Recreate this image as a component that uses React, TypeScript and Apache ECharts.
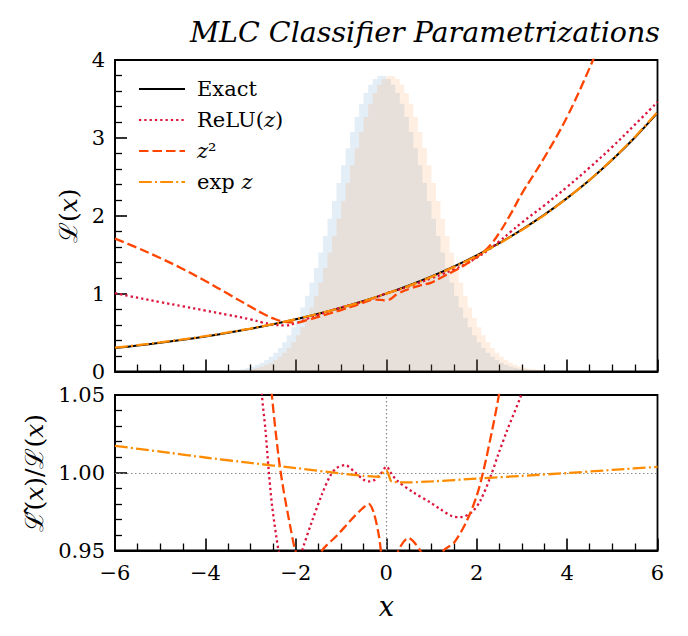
import React, { useEffect, useRef } from "react";
import * as echarts from "echarts";

const SERIF = "DejaVu Serif";

// Histogram (scaled density), bins of width 0.1 starting at -3.5
const histStart = -3.5;
const binWidth = 0.1;
const histBlue: number[] = [
  0.014, 0.019, 0.027, 0.036, 0.049, 0.065, 0.087, 0.113, 0.147, 0.189,
  0.24, 0.302, 0.377, 0.465, 0.568, 0.686, 0.822, 0.974, 1.143, 1.328,
  1.528, 1.74, 1.962, 2.19, 2.42, 2.648, 2.868, 3.077, 3.267, 3.437,
  3.576, 3.683, 3.757, 3.795, 3.795, 3.757, 3.683, 3.576, 3.437, 3.267,
  3.077, 2.868, 2.648, 2.42, 2.19, 1.962, 1.74, 1.528, 1.328, 1.143,
  0.974, 0.822, 0.686, 0.568, 0.465, 0.377, 0.302, 0.24, 0.189, 0.147,
  0.113, 0.087, 0.065, 0.049, 0.036, 0.027, 0.019, 0.014, 0.01, 0.007,
];
const histOrange: number[] = [
  0.007, 0.01, 0.014, 0.019, 0.027, 0.036, 0.049, 0.065, 0.087, 0.113,
  0.147, 0.189, 0.24, 0.302, 0.377, 0.465, 0.568, 0.686, 0.822, 0.974,
  1.143, 1.328, 1.528, 1.74, 1.962, 2.19, 2.42, 2.648, 2.868, 3.077,
  3.267, 3.437, 3.576, 3.683, 3.757, 3.795, 3.795, 3.757, 3.683, 3.576,
  3.437, 3.267, 3.077, 2.868, 2.648, 2.42, 2.19, 1.962, 1.74, 1.528,
  1.328, 1.143, 0.974, 0.822, 0.686, 0.568, 0.465, 0.377, 0.302, 0.24,
  0.189, 0.147, 0.113, 0.087, 0.065, 0.049, 0.036, 0.027, 0.019, 0.014,
];

// Top panel curves
const xExact = [-6, -5.5, -5, -4.5, -4, -3.5, -3, -2.5, -2, -1.5, -1, -0.5, 0, 0.5, 1, 1.5, 2, 2.5, 3, 3.5, 4, 4.5, 5, 5.5, 6];
const yExact = [0.301, 0.333, 0.368, 0.407, 0.449, 0.497, 0.549, 0.607, 0.67, 0.741, 0.819, 0.905, 1.0, 1.105, 1.221, 1.35, 1.492, 1.649, 1.822, 2.014, 2.226, 2.46, 2.718, 3.004, 3.32];
const yExpZ = [0.306, 0.338, 0.373, 0.412, 0.453, 0.501, 0.552, 0.609, 0.672, 0.742, 0.819, 0.903, 1.001, 1.099, 1.215, 1.343, 1.486, 1.644, 1.818, 2.01, 2.226, 2.462, 2.723, 3.012, 3.333];

const xRelu = [-6, -5.5, -5, -4.5, -4, -3.5, -3, -2.75, -2.5, -2.25, -2, -1.75, -1.5, -1.25, -1, -0.75, -0.5, -0.25, 0, 0.25, 0.5, 0.75, 1, 1.25, 1.5, 1.75, 2, 2.25, 2.5, 2.75, 3, 3.5, 4, 4.5, 5, 5.5, 6];
const yRelu = [1.005, 0.948, 0.892, 0.837, 0.782, 0.727, 0.668, 0.632, 0.602, 0.592, 0.62, 0.677, 0.728, 0.777, 0.822, 0.862, 0.9, 0.947, 1.004, 1.046, 1.093, 1.145, 1.198, 1.253, 1.312, 1.379, 1.461, 1.557, 1.67, 1.792, 1.913, 2.135, 2.37, 2.62, 2.885, 3.17, 3.46];

const xSq = [-6, -5.5, -5, -4.5, -4, -3.5, -3, -2.75, -2.5, -2.25, -2, -1.75, -1.5, -1.25, -1, -0.75, -0.5, -0.25, 0, 0.25, 0.5, 0.75, 1, 1.25, 1.5, 1.75, 2, 2.25, 2.5, 2.75, 3, 3.5, 4, 4.5, 4.75];
const ySq = [1.707, 1.587, 1.457, 1.317, 1.162, 0.997, 0.83, 0.75, 0.682, 0.638, 0.63, 0.659, 0.702, 0.745, 0.789, 0.836, 0.885, 0.924, 0.913, 0.996, 1.059, 1.105, 1.142, 1.217, 1.29, 1.372, 1.47, 1.588, 1.78, 2.02, 2.285, 2.75, 3.27, 3.9, 4.25];

// Bottom panel ratios
const xRatioExp = [-6, -5, -4, -3, -2, -1, -0.5, -0.15, -0.05, 0, 0.05, 0.12, 0.5, 1, 2, 3, 4, 5, 6];
const yRatioExp = [1.0173, 1.0136, 1.0098, 1.0063, 1.003, 0.9995, 0.998, 0.9975, 1.0008, 1.0015, 0.999, 0.9942, 0.9938, 0.9944, 0.9962, 0.998, 0.9998, 1.0018, 1.0038];

const xRatioRelu = [-3.0, -2.85, -2.75, -2.67, -2.6, -2.53, -2.43, -2.38, -2.2, -2.0, -1.86, -1.64, -1.42, -1.24, -1.1, -0.91, -0.69, -0.5, -0.38, -0.25, -0.13, 0.01, 0.1, 0.24, 0.6, 0.97, 1.19, 1.45, 1.64, 1.89, 2.08, 2.3, 2.48, 2.67, 2.96, 3.1, 3.5];
const yRatioRelu = [1.15, 1.1, 1.05, 1.027, 1.0013, 0.98, 0.9585, 0.95, 0.93, 0.935, 0.95, 0.969, 0.9863, 0.998, 1.003, 1.0049, 1.0002, 0.9955, 0.9944, 0.9955, 0.999, 1.004, 1.0, 0.9949, 0.9874, 0.981, 0.9767, 0.9722, 0.9714, 0.9746, 0.982, 0.997, 1.012, 1.027, 1.048, 1.06, 1.08];

const xRatioSq = [-3.0, -2.53, -2.38, -2.27, -2.12, -2.01, -1.75, -1.42, -1.09, -0.8, -0.54, -0.39, -0.28, -0.17, -0.12, 0, 0.1, 0.27, 0.49, 0.75, 1.0, 1.27, 1.5, 1.78, 2.0, 2.15, 2.34, 2.48, 2.6];
const yRatioSq = [1.2, 1.05, 1.0098, 0.9885, 0.965, 0.95, 0.93, 0.95, 0.9596, 0.969, 0.9767, 0.98, 0.9746, 0.9607, 0.95, 0.92, 0.93, 0.95, 0.958, 0.95, 0.935, 0.95, 0.955, 0.969, 0.985, 1.0013, 1.027, 1.048, 1.07];

const xTicksMajor = 2;
const legendLabels: Record<string, string> = {
  Exact: "Exact",
  ReLU: "ReLU({i|z})",
  z2: "{i|z}²",
  exp: "exp {i|z}",
};

const pairs = (xs: number[], ys: number[]) => xs.map((x, i) => [x, ys[i]]);
const histPairs = (h: number[]) => {
  const out: number[][] = h.map((v, i) => [histStart + i * binWidth, v]);
  out.push([histStart + h.length * binWidth, h[h.length - 1]]);
  return out;
};

const minus = (v: number) => (v < 0 ? "\u2212" + Math.abs(v) : String(v));

const tickCommon = {
  axisTick: { show: true, inside: true, length: 12, lineStyle: { color: "#000", width: 1.6 } },
  splitLine: { show: false },
};

const labelStyle = { fontFamily: SERIF, fontSize: 21, color: "#000" };

function makeXAxis(gridIndex: number, showLabels: boolean) {
  return {
    type: "value",
    gridIndex,
    min: -6,
    max: 6,
    interval: xTicksMajor,
    axisLine: { show: true, onZero: false, lineStyle: { color: "#000", width: 1.8 } },
    ...tickCommon,
    minorTick: { show: true, splitNumber: 4, length: 7, lineStyle: { color: "#000", width: 1.3 } },
    axisLabel: { show: showLabels, formatter: minus, ...labelStyle, margin: 12 },
    ...(showLabels
      ? {
          name: "{i|x}",
          nameLocation: "middle",
          nameGap: 42,
          nameTextStyle: {
            fontFamily: SERIF,
            fontSize: 26,
            color: "#000",
            rich: { i: { fontFamily: SERIF, fontStyle: "italic", fontSize: 27, color: "#000" } },
          },
        }
      : {}),
  };
}

function makeYName(text: string, gap: number) {
  return {
    name: text,
    nameLocation: "middle",
    nameRotate: 90,
    nameGap: gap,
    nameTextStyle: {
      fontFamily: SERIF,
      fontSize: 25,
      color: "#000",
      rich: {
        i: { fontFamily: SERIF, fontStyle: "italic", fontSize: 25, color: "#000" },
        s: { fontFamily: SERIF, fontSize: 25, color: "#000" },
      },
    },
  };
}

const lineBase = { type: "line", symbol: "none", showSymbol: false, clip: true, silent: true };

const option: any = {
  animation: false,
  backgroundColor: "#fff",
  title: {
    text: "MLC Classifier Parametrizations",
    right: 23,
    top: 13,
    textStyle: { fontFamily: SERIF, fontStyle: "italic", fontWeight: "normal", fontSize: 28.5, color: "#000" },
  },
  legend: {
    data: ["Exact", "ReLU", "z2", "exp"],
    orient: "vertical",
    left: 133,
    top: 72,
    itemWidth: 46,
    itemHeight: 12,
    itemGap: 7,
    itemStyle: { opacity: 0 },
    formatter: (n: string) => legendLabels[n],
    textStyle: {
      fontFamily: SERIF,
      fontSize: 21,
      color: "#000",
      lineHeight: 24,
      padding: [0, 0, 0, 7],
      rich: { i: { fontFamily: SERIF, fontStyle: "italic", fontSize: 21, color: "#000" } },
    },
  },
  grid: [
    { left: 115, top: 60, width: 542.5, height: 311.5, show: true, borderColor: "#000", borderWidth: 1.8, backgroundColor: "transparent" },
    { left: 115, top: 395, width: 542.5, height: 155.5, show: true, borderColor: "#000", borderWidth: 1.8, backgroundColor: "transparent" },
  ],
  xAxis: [makeXAxis(0, false), makeXAxis(1, true)],
  yAxis: [
    {
      type: "value",
      gridIndex: 0,
      min: 0,
      max: 4,
      interval: 1,
      axisLine: { show: true, onZero: false, lineStyle: { color: "#000", width: 1.8 } },
      ...tickCommon,
      minorTick: { show: true, splitNumber: 5, length: 7, lineStyle: { color: "#000", width: 1.3 } },
      axisLabel: { ...labelStyle, margin: 10 },
      ...makeYName("{s|ℒ}({i|x})", 32),
    },
    {
      type: "value",
      gridIndex: 1,
      min: 0.95,
      max: 1.05,
      interval: 0.05,
      axisLine: { show: true, onZero: false, lineStyle: { color: "#000", width: 1.8 } },
      ...tickCommon,
      minorTick: { show: true, splitNumber: 5, length: 7, lineStyle: { color: "#000", width: 1.3 } },
      axisLabel: { ...labelStyle, margin: 10, formatter: (v: number) => v.toFixed(2) },
      ...makeYName("{s|ℒ̂}({i|x})/{s|ℒ}({i|x})", 62),
    },
  ],
  series: [
    {
      ...lineBase,
      name: "histA",
      xAxisIndex: 0,
      yAxisIndex: 0,
      step: "end",
      data: histPairs(histBlue),
      lineStyle: { width: 0 },
      areaStyle: { color: "rgba(31,119,180,0.12)", opacity: 1 },
      z: 1,
    },
    {
      ...lineBase,
      name: "histB",
      xAxisIndex: 0,
      yAxisIndex: 0,
      step: "end",
      data: histPairs(histOrange),
      lineStyle: { width: 0 },
      areaStyle: { color: "rgba(255,127,14,0.12)", opacity: 1 },
      z: 1,
    },
    {
      ...lineBase,
      name: "Exact",
      xAxisIndex: 0,
      yAxisIndex: 0,
      smooth: 0.3,
      data: pairs(xExact, yExact),
      color: "#000",
      lineStyle: { color: "#000", width: 2 },
      z: 3,
    },
    {
      ...lineBase,
      name: "ReLU",
      xAxisIndex: 0,
      yAxisIndex: 0,
      smooth: 0.4,
      data: pairs(xRelu, yRelu),
      color: "#dc143c",
      lineStyle: { color: "#dc143c", width: 2.3, type: [2.3, 3] },
      z: 4,
    },
    {
      ...lineBase,
      name: "z2",
      xAxisIndex: 0,
      yAxisIndex: 0,
      smooth: 0.4,
      data: pairs(xSq, ySq),
      color: "#ff4500",
      lineStyle: { color: "#ff4500", width: 2.3, type: [9.5, 4] },
      z: 5,
    },
    {
      ...lineBase,
      name: "exp",
      xAxisIndex: 0,
      yAxisIndex: 0,
      smooth: 0.3,
      data: pairs(xExact, yExpZ),
      color: "#ff8c00",
      lineStyle: { color: "#ff8c00", width: 2.3, type: [12.8, 3.2, 2, 3.2] },
      z: 6,
    },
    {
      ...lineBase,
      name: "ReLU ratio",
      xAxisIndex: 1,
      yAxisIndex: 1,
      smooth: 0.3,
      data: pairs(xRatioRelu, yRatioRelu),
      lineStyle: { color: "#dc143c", width: 2.3, type: [2.3, 3] },
      z: 4,
      markLine: {
        silent: true,
        symbol: "none",
        label: { show: false },
        lineStyle: { color: "#888", width: 1.2, type: [1.5, 2.5] },
        data: [{ yAxis: 1 }, { xAxis: 0 }],
        z: 2,
      },
    },
    {
      ...lineBase,
      name: "z2 ratio",
      xAxisIndex: 1,
      yAxisIndex: 1,
      smooth: 0.3,
      data: pairs(xRatioSq, yRatioSq),
      lineStyle: { color: "#ff4500", width: 2.3, type: [9.5, 4] },
      z: 5,
    },
    {
      ...lineBase,
      name: "exp ratio",
      xAxisIndex: 1,
      yAxisIndex: 1,
      smooth: 0.2,
      data: pairs(xRatioExp, yRatioExp),
      lineStyle: { color: "#ff8c00", width: 2.3, type: [12.8, 3.2, 2, 3.2] },
      z: 6,
    },
  ],
};

export default function App() {
  const ref = useRef<HTMLDivElement>(null);
  useEffect(() => {
    if (!ref.current) return;
    const chart = echarts.init(ref.current, null, { renderer: "svg" });
    chart.setOption(option);
    return () => chart.dispose();
  }, []);
  return (
    <div
      ref={ref}
      style={{ position: "absolute", left: 0, top: 0, width: 688, height: 636, background: "#fff" }}
    />
  );
}
